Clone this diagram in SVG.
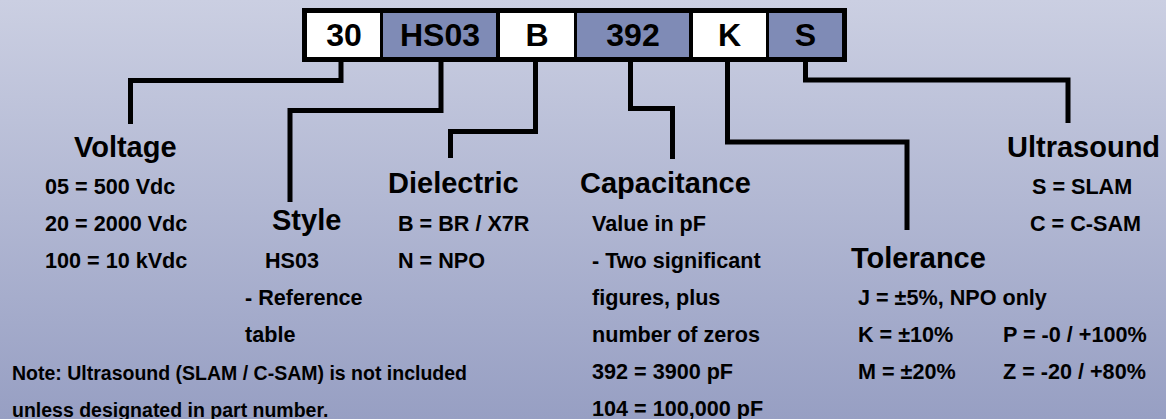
<svg xmlns="http://www.w3.org/2000/svg" width="1166" height="419" viewBox="0 0 1166 419">
  <defs>
    <linearGradient id="bg" x1="0" y1="0" x2="0" y2="1">
      <stop offset="0" stop-color="#cbcfe2"/>
      <stop offset="1" stop-color="#979fc3"/>
    </linearGradient>
    <style>
      text { font-family: "Liberation Sans", Arial, sans-serif; font-weight: bold; fill: #000; }
      .code { font-size: 32px; text-anchor: middle; }
      .head { font-size: 29px; }
      .body { font-size: 21.6px; }
      .note { font-size: 19.5px; }
      .white { fill: #ffffff; }
      .blue { fill: #7f8bb6; }
      .conn { fill: none; stroke: #000; stroke-width: 5; stroke-linejoin: miter; stroke-linecap: butt; }
    </style>
  </defs>
  <rect x="0" y="0" width="1166" height="419" fill="url(#bg)"/>

  <g id="partnumber">
    <rect x="302" y="8" width="545" height="54" fill="#000"/>
    <g id="box-30"><rect class="white" x="307" y="13" width="73" height="44"/><text class="code" x="344" y="46">30</text></g>
    <g id="box-hs03"><rect class="blue" x="383" y="13" width="113" height="44"/><text class="code" x="440" y="46">HS03</text></g>
    <g id="box-b"><rect class="white" x="500" y="13" width="74" height="44"/><text class="code" x="537" y="46">B</text></g>
    <g id="box-392"><rect class="blue" x="577" y="13" width="112" height="44"/><text class="code" x="633" y="46">392</text></g>
    <g id="box-k"><rect class="white" x="693" y="13" width="73" height="44"/><text class="code" x="729.5" y="46">K</text></g>
    <g id="box-s"><rect class="blue" x="769" y="13" width="73" height="44"/><text class="code" x="805.5" y="46">S</text></g>
  </g>

  <g id="connectors">
    <path class="conn" d="M341 62 V80.5 H130.5 V124"/>
    <path class="conn" d="M441 62 V110.5 H290 V202"/>
    <path class="conn" d="M535.5 62 V131.5 H450.5 V158"/>
    <path class="conn" d="M630.5 62 V108.5 H672.5 V159"/>
    <path class="conn" d="M727.5 62 V142 H907 V230"/>
    <path class="conn" d="M805.5 62 V80 H1068 V123"/>
  </g>

  <g id="voltage">
    <text class="head" x="74" y="157">Voltage</text>
    <text class="body" x="45" y="194">05 = 500 Vdc</text>
    <text class="body" x="45" y="231">20 = 2000 Vdc</text>
    <text class="body" x="45" y="268">100 = 10 kVdc</text>
  </g>

  <g id="style">
    <text class="head" x="272" y="230">Style</text>
    <text class="body" x="265" y="268">HS03</text>
    <text class="body" x="245" y="305">- Reference</text>
    <text class="body" x="245" y="342">table</text>
  </g>

  <g id="note">
    <text class="note" x="12" y="380">Note: Ultrasound (SLAM / C-SAM) is not included</text>
    <text class="note" x="12" y="417">unless designated in part number.</text>
  </g>

  <g id="dielectric">
    <text class="head" x="388" y="193">Dielectric</text>
    <text class="body" x="398" y="231">B = BR / X7R</text>
    <text class="body" x="398" y="268">N = NPO</text>
  </g>

  <g id="capacitance">
    <text class="head" x="580" y="193">Capacitance</text>
    <text class="body" x="592" y="231">Value in pF</text>
    <text class="body" x="592" y="268">- Two significant</text>
    <text class="body" x="592" y="305">figures, plus</text>
    <text class="body" x="592" y="342">number of zeros</text>
    <text class="body" x="592" y="379">392 = 3900 pF</text>
    <text class="body" x="592" y="416">104 = 100,000 pF</text>
  </g>

  <g id="tolerance">
    <text class="head" x="851" y="268">Tolerance</text>
    <text class="body" x="858" y="305">J = ±5%, NPO only</text>
    <text class="body" x="858" y="342">K = ±10%</text>
    <text class="body" x="1003" y="342">P = -0 / +100%</text>
    <text class="body" x="858" y="379">M = ±20%</text>
    <text class="body" x="1003" y="379">Z = -20 / +80%</text>
  </g>

  <g id="ultrasound">
    <text class="head" x="1007" y="157">Ultrasound</text>
    <text class="body" x="1032" y="194">S = SLAM</text>
    <text class="body" x="1030" y="231">C = C-SAM</text>
  </g>
</svg>
